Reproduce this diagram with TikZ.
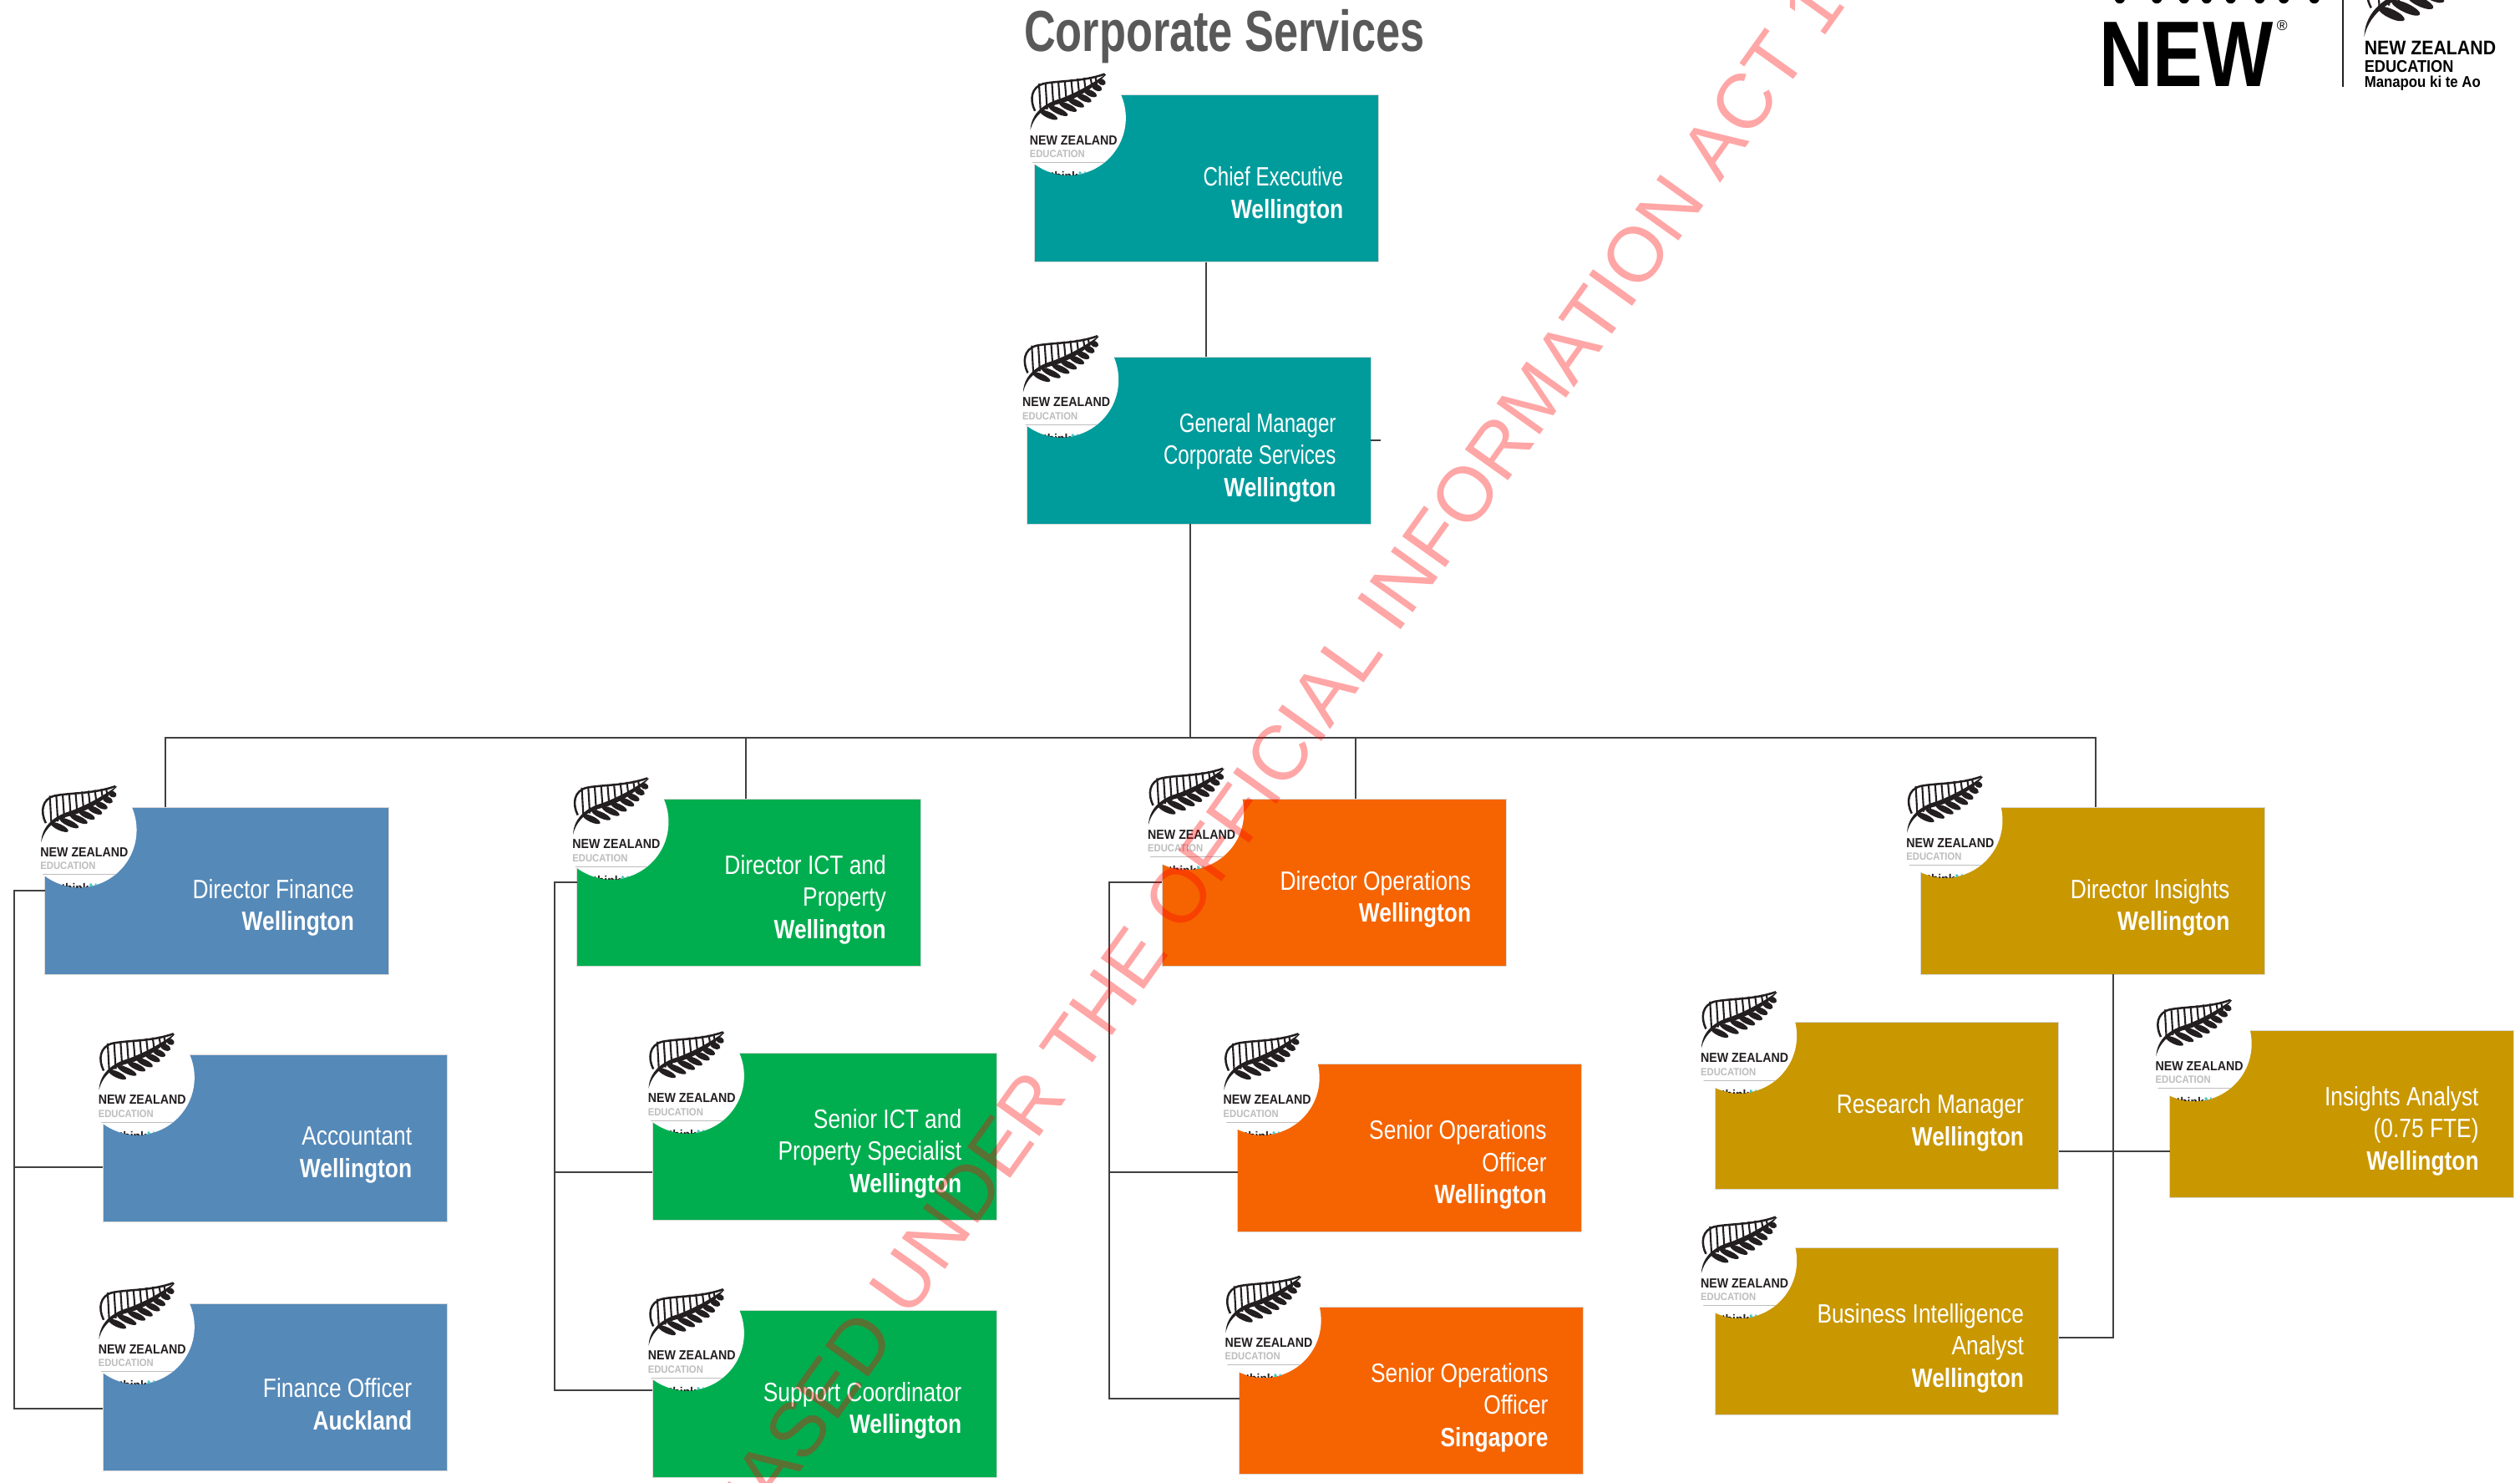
\documentclass[tikz,border=0pt]{standalone}
\usepackage{fontspec}
\setmainfont{Liberation Sans}
\newfontfamily\boxfont[FakeStretch=0.83]{Liberation Sans}
\newfontfamily\execfont[FakeStretch=0.76, BoldFeatures={FakeStretch=0.83}]{Liberation Sans}
\newfontfamily\titlefont[FakeStretch=0.755]{Liberation Sans}
\newfontfamily\brandfont[FakeStretch=0.8]{Liberation Sans}
\newfontfamily\logofont[FakeStretch=0.9]{Liberation Sans}

\definecolor{execteal}{HTML}{009B9B}
\definecolor{finblue}{HTML}{5589B8}
\definecolor{ictgreen}{HTML}{00AE4F}
\definecolor{opsorange}{HTML}{F56400}
\definecolor{insgold}{HTML}{C99700}
\definecolor{titlegray}{HTML}{595959}
\definecolor{linkgray}{HTML}{404040}
\definecolor{fernink}{HTML}{231F20}
\definecolor{eduline}{HTML}{BDBDBD}
\definecolor{thinkteal}{HTML}{4CC4C4}

\tikzset{
	box/.style={rectangle, draw=black!15, line width=0.4pt, minimum width=214pt, minimum height=104pt, inner sep=0pt, outer sep=0pt},
	boxtext/.style={anchor=east, align=right, inner sep=0pt, text=white, font=\boxfont\fontsize{16.5}{20}\selectfont},
	link/.style={draw=linkgray, line width=1pt},
	logotext/.style={anchor=base west, inner sep=0pt},
	fern/.pic={
		%arch and stem
		\draw[fernink, line width=1.3pt] (0.5,10) .. controls (-3,3) and (-2,-5) .. (6,-7) .. controls (16,-9) and (30,-8) .. (44,-13);
		\fill[fernink] (-2.4,22) .. controls (0,12) and (8,7) .. (16,5.5) .. controls (28,2) and (38,-5) .. (46,-14) .. controls (38,-8) and (28,-2) .. (16,2.5) .. controls (7,5) and (-2,11) .. (-2.4,22);
		%upper leaflets
		\foreach \x in {3,7,11,15,19,23,27,31,35,38}{
			\draw[fernink, line width=1.1pt] (\x,{-6.6-0.13*\x}) -- (\x+1,{12.5-0.5*\x});
		}
		%lower leaflets
		\foreach \x/\y/\r in {9/12.5/6, 15/10/6.5, 21/7.5/6, 26/5/5.5, 31/2/5, 35/-1/4.2, 39/-4.5/3.4, 42/-8/2.6}{
			\fill[fernink, shift={(\x,\y)}, rotate=-25] (0,0) ellipse (\r pt and 1.9pt);
		}
	},
	logo/.pic={
		\begin{scope}
			\clip (21.3,14.3) circle (35.7);
			\clip (-3,-25) rectangle (60,55);
			\fill[white] (-3,-25) rectangle (60,55);
			\pic (leaf) {fern};
			\node[logotext, text=fernink, font=\logofont\bfseries\fontsize{8.2}{10}\selectfont] (nz) at (-3,31) {NEW ZEALAND};
			\node[logotext, text=eduline, font=\logofont\bfseries\fontsize{6.5}{8}\selectfont] (edu) at (-3,39) {EDUCATION};
			\draw[eduline, line width=0.4pt] (-3,42) -- (50,42);
			\node[logotext, text=fernink, font=\logofont\bfseries\fontsize{8}{10}\selectfont] (think) at (10,53.5) {think\textcolor{thinkteal}{New}};
		\end{scope}
	}
}

\begin{document}
\begin{tikzpicture}[x=1pt, y=-1pt]
	\useasboundingbox (0,0) rectangle (1568,922);
	\clip (0,0) rectangle (1568,922);

	\node[anchor=base west, inner sep=0pt, text=titlegray, font=\titlefont\bfseries\fontsize{36}{40}\selectfont] (title) at (637,32) {Corporate Services};

	%boxes
	\foreach \name/\x/\y/\off/\col/\lines in {
		ce/750.5/111/0/execteal/{{\execfont Chief Executive}\\\textbf{Wellington}},
		gm/746/274/0/execteal/{{\execfont General Manager}\\{\execfont Corporate Services}\\\textbf{Wellington}},
		df/135/554/0/finblue/{Director Finance\\\textbf{Wellington}},
		acc/171/708/0/finblue/{Accountant\\\textbf{Wellington}},
		fo/171/863/0/finblue/{Finance Officer\\\textbf{Auckland}},
		dict/466/549/0/ictgreen/{Director ICT and\\Property\\\textbf{Wellington}},
		sict/513/707/0/ictgreen/{Senior ICT and\\Property Specialist\\\textbf{Wellington}},
		sc/513/867/0/ictgreen/{Support Coordinator\\\textbf{Wellington}},
		dops/830/549/6/opsorange/{Director Operations\\\textbf{Wellington}},
		soa/877/714/6/opsorange/{Senior Operations\\Officer\\\textbf{Wellington}},
		sob/878/865/6/opsorange/{Senior Operations\\Officer\\\textbf{Singapore}},
		di/1302/554/6/insgold/{Director Insights\\\textbf{Wellington}},
		rm/1174/688/6/insgold/{Research Manager\\\textbf{Wellington}},
		ia/1457/693/6/insgold/{Insights Analyst\\(0.75 FTE)\\\textbf{Wellington}},
		bi/1174/828/6/insgold/{Business Intelligence\\Analyst\\\textbf{Wellington}}}{
		\node[box, fill=\col] (\name) at (\x,\y) {};
		\pic (\name logo) at ([xshift=-\off pt, yshift=\off pt]\name.north west) {logo};
		\node[boxtext] (\name text) at ([xshift=85.5pt, yshift=-10.5pt]\name.center) {\lines};
	}

	%top of the chart
	\coordinate (gmstub) at ([xshift=6pt]gm.east);
	\coordinate (gmport) at ([xshift=-5.5pt]gm.south);
	\coordinate (bus) at (740.5,459);
	\coordinate (dfport) at ([xshift=-32pt]df.north);
	\coordinate (dictport) at ([xshift=-2pt]dict.north);
	\coordinate (dopsport) at ([xshift=13.5pt]dops.north);
	\coordinate (diport) at ([xshift=2pt]di.north);
	\draw[link] (ce.south) -- (ce.south |- gm.north);
	\draw[link] (gm.east) -- (gmstub);
	\draw[link] (gmport) -- (bus);
	\draw[link] (dfport) |- (bus) -| (diport);
	\draw[link] (dictport) -- (dictport |- bus);
	\draw[link] (dopsport) -- (dopsport |- bus);

	%finance
	\coordinate (dfbus) at (9,554);
	\coordinate (accport) at ([yshift=-18pt]acc.west);
	\coordinate (foport) at ([yshift=-13pt]fo.west);
	\draw[link] (df.west) -- (dfbus) |- (foport);
	\draw[link] (accport) -- (accport -| dfbus);

	%ict
	\coordinate (dictbus) at (345,549);
	\coordinate (sictport) at ([yshift=-22pt]sict.west);
	\coordinate (scport) at ([yshift=2pt]sc.west);
	\draw[link] (dict.west) -- (dictbus) |- (scport);
	\draw[link] (sictport) -- (sictport -| dictbus);

	%operations
	\coordinate (dopsbus) at (690,549);
	\coordinate (soaport) at ([yshift=-15pt]soa.west);
	\coordinate (sobport) at ([yshift=-5pt]sob.west);
	\draw[link] (dops.west) -- (dopsbus) |- (sobport);
	\draw[link] (soaport) -- (soaport -| dopsbus);

	%insights
	\coordinate (diout) at ([xshift=13pt]di.south);
	\coordinate (biport) at ([yshift=-4pt]bi.east);
	\coordinate (rmport) at ([yshift=-28pt]rm.east);
	\draw[link] (diout) |- (biport);
	\draw[link] (rmport) -- (rmport -| ia.west);

	%brand mark, top right
	\foreach \x in {1319,1342,1359,1373,1388,1406,1421,1440}{
		\fill[black] (\x,-1) circle (3.2);
	}
	\node[anchor=base west, inner sep=0pt, font=\brandfont\bfseries\fontsize{58}{60}\selectfont] (new) at (1306,54) {NEW};
	\node[inner sep=0pt, font=\fontsize{9}{10}\selectfont] (reg) at (1420,16) {®};
	\coordinate (ruletop) at (1458,0);
	\coordinate (rulefoot) at (1458,54);
	\draw[fernink, line width=1pt] (ruletop) -- (rulefoot);
	\pic[scale=1.49] (brandleaf) at (1474.6,-10) {fern};
	\node[logotext, font=\logofont\bfseries\fontsize{12.3}{14}\selectfont] (brandnz) at (1471,34) {NEW ZEALAND};
	\node[logotext, font=\logofont\bfseries\fontsize{10.5}{12}\selectfont] (brandedu) at (1471,45) {EDUCATION};
	\node[logotext, font=\logofont\bfseries\fontsize{9.7}{11}\selectfont] (brandmotto) at (1471,54.5) {Manapou ki te Ao};

	%watermark
	\node[rotate=54.5, inner sep=0pt, text=red, text opacity=0.35, font=\fontsize{48}{50}\selectfont] (stamp) at (793,474) {EASED UNDER THE OFFICIAL INFORMATION ACT 1};
\end{tikzpicture}
\end{document}
